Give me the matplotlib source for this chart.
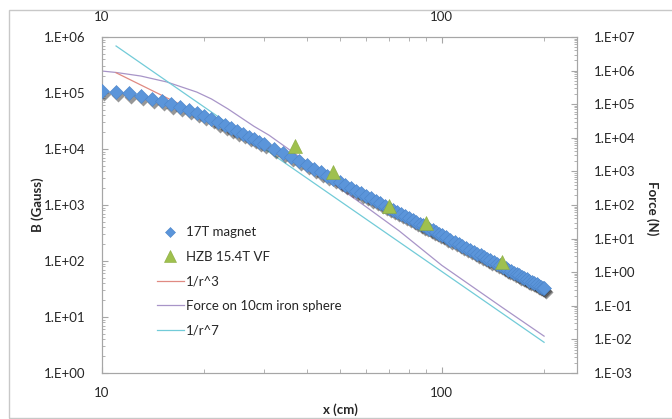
import numpy as np
import matplotlib
matplotlib.use("Agg")
import matplotlib.pyplot as plt
from matplotlib import ticker, transforms
from matplotlib.patches import Rectangle
from matplotlib.lines import Line2D

plt.rcParams['font.family'] = ['Lato', 'DejaVu Sans']

# 17T magnet field (Gauss)
x_mag = [10, 11, 12, 13, 14, 15, 16, 17, 18, 19, 20, 21, 22, 23, 24, 25, 26, 27, 28, 29, 30,
         32, 34, 36, 38, 40, 42, 44, 46, 48, 50, 52, 54, 56, 58, 60, 62, 64, 66, 68, 70,
         72, 74, 76, 78, 80, 82, 84, 86, 88, 90, 92, 94, 96, 98, 100,
         103, 106, 109, 112, 115, 118, 121, 124, 127, 130, 133, 136, 139, 142, 145, 148,
         151, 154, 157, 160, 163, 166, 169, 172, 175, 178, 181, 184, 187, 190, 193, 196, 199, 200]
b_mag = [1.10e5, 1.05e5, 9.8e4, 8.9e4, 7.9e4, 7.2e4, 6.3e4, 5.6e4, 5.0e4, 4.4e4, 3.9e4, 3.44e4,
         3.01e4, 2.64e4, 2.34e4, 2.08e4, 1.86e4, 1.66e4, 1.50e4, 1.355e4, 1.23e4,
         1.02e4, 8550, 7240, 6110, 5190, 4460, 3850, 3340, 2920, 2570, 2270, 2020, 1800, 1610,
         1450, 1310, 1180, 1070, 977, 891, 816, 748, 689, 634, 585, 542, 502, 466, 434, 404,
         377, 352, 330, 309, 290,
         264, 241, 221, 203, 187, 172, 159, 147, 136, 127, 118, 110, 103, 96, 90, 84.3,
         79.1, 74.4, 70.0, 65.9, 62.2, 58.7, 55.5, 52.5, 49.8, 47.1, 44.7, 42.5, 40.4, 38.4,
         36.5, 34.8, 33.2, 32.7]

# HZB 15.4T VF (Gauss)
x_hzb = [37, 48, 70, 90, 150]
b_hzb = [1.15e4, 3.9e3, 960, 480, 95]

# 1/r^3 reference (Gauss)
x_r3 = [11, 20, 50, 100, 200]
b_r3 = [2.3e5, 3.83e4, 2.45e3, 306, 38]

# force on 10cm iron sphere (N)
x_force = [10, 11, 13, 15.5, 19, 21, 23.5, 28, 31, 35, 42, 50, 60, 75, 100, 150, 200]
f_force = [9.7e5, 8.8e5, 6.9e5, 4.6e5, 2.3e5, 1.43e5, 7.2e4, 2.2e4, 1.2e4, 5.0e3, 1.35e3,
           320, 87, 16.8, 1.6, 0.092, 0.0125]

# 1/r^7 reference (N)
x_r7 = [11, 20, 50, 100, 200]
f_r7 = [5.4e6, 8.2e4, 134, 1.05, 0.0082]

fig = plt.figure(figsize=(6.72, 4.19), dpi=100)
fig.patches.append(Rectangle((9 / 672, 1 / 419), 2.0, 408 / 419, transform=fig.transFigure,
                             fill=False, edgecolor='#c8c8c8', lw=1.0))

ax = fig.add_axes([102 / 672, 46 / 419, 475 / 672, 336 / 419])
ax2 = ax.twinx()
ax.set_zorder(ax2.get_zorder() + 1)
ax.patch.set_visible(False)

for a in (ax, ax2):
    a.set_xscale('log')
    a.set_yscale('log')
    for s in a.spines.values():
        s.set_color('#a6a6a6')
        s.set_linewidth(0.8)

ax.set_xlim(10, 250)
ax.set_ylim(1, 1e6)
ax2.set_ylim(1e-3, 1e7)

# lines on the force axis (below the markers)
ax2.plot(x_force, f_force, color='#a895c8', lw=0.9)
ax2.plot(x_r7, f_r7, color='#72cbd8', lw=0.9)

# field axis
ax.plot(x_r3, b_r3, color='#e08a82', lw=0.9, zorder=1)
shadow = transforms.offset_copy(ax.transData, fig=fig, x=1.5, y=-2.4, units='points')
ax.plot(x_mag, b_mag, ls='none', marker='D', ms=7, color='#1a1a1a', alpha=0.45,
        mec='none', transform=shadow, zorder=2)
ax.plot(x_mag, b_mag, ls='none', marker='D', ms=7, color='#5b95da', mec='#4c84c8',
        mew=0.4, zorder=3)
ax.plot(x_hzb, b_hzb, ls='none', marker='^', ms=9.5, color='#9fc04e', mec='#8aab3e',
        mew=0.4, zorder=4)

def exp_fmt(v, p):
    return "1.E%+03d" % round(np.log10(v))

ax.yaxis.set_major_locator(ticker.LogLocator(base=10, numticks=20))
ax.yaxis.set_major_formatter(ticker.FuncFormatter(exp_fmt))
ax.yaxis.set_minor_locator(ticker.LogLocator(base=10, subs=np.arange(2, 10), numticks=20))
ax.yaxis.set_minor_formatter(ticker.NullFormatter())
ax2.yaxis.set_major_locator(ticker.LogLocator(base=10, numticks=20))
ax2.yaxis.set_major_formatter(ticker.FuncFormatter(exp_fmt))
ax2.yaxis.set_minor_locator(ticker.LogLocator(base=10, subs=np.arange(2, 10), numticks=20))
ax2.yaxis.set_minor_formatter(ticker.NullFormatter())

ax.xaxis.set_major_locator(ticker.FixedLocator([10, 100]))
ax.xaxis.set_major_formatter(ticker.FuncFormatter(lambda v, p: "%d" % v))
ax.xaxis.set_minor_locator(ticker.LogLocator(base=10, subs=np.arange(2, 10), numticks=20))
ax.xaxis.set_minor_formatter(ticker.NullFormatter())

ax.tick_params(axis='x', which='both', top=True, labeltop=True, direction='in',
               color='#a6a6a6', labelsize=9.5, labelcolor='#262626')
ax.tick_params(axis='x', which='major', length=4, pad=10)
ax.tick_params(axis='x', which='minor', length=3)
ax.tick_params(axis='y', which='both', direction='in', color='#a6a6a6',
               labelsize=9.5, labelcolor='#262626', pad=12)
ax.tick_params(axis='y', which='major', length=4)
ax.tick_params(axis='y', which='minor', length=2.5)
ax2.tick_params(axis='y', which='both', direction='in', color='#a6a6a6',
                labelsize=9.5, labelcolor='#262626', pad=12)
ax2.tick_params(axis='y', which='major', length=4)
ax2.tick_params(axis='y', which='minor', length=2.5)

fig.text(38 / 672, 1 - 205 / 419, 'B (Gauss)', rotation=90, ha='center', va='center',
         fontsize=9.5, fontweight='bold', color='#262626')
fig.text(652 / 672, 1 - 208 / 419, 'Force (N)', rotation=270, ha='center', va='center',
         fontsize=9.5, fontweight='bold', color='#262626')
fig.text(340 / 672, 1 - 410 / 419, 'x (cm)', ha='center', va='center',
         fontsize=9.5, fontweight='bold', color='#262626')

handles = [
    Line2D([], [], ls='none', marker='D', ms=5.5, color='#5b95da', mec='#4c84c8', mew=0.4),
    Line2D([], [], ls='none', marker='^', ms=8, color='#9fc04e', mec='#8aab3e', mew=0.4),
    Line2D([], [], color='#e08a82', lw=0.9),
    Line2D([], [], color='#a895c8', lw=0.9),
    Line2D([], [], color='#72cbd8', lw=0.9),
]
labels = ['17T magnet', 'HZB 15.4T VF', '1/r^3', 'Force on 10cm iron sphere', '1/r^7']
leg = ax.legend(handles, labels, loc='upper left', bbox_to_anchor=(152 / 672, 1 - 221 / 419),
                bbox_transform=fig.transFigure, frameon=False, fontsize=9.5,
                handlelength=2.0, handletextpad=0.2, labelspacing=0.95, borderaxespad=0)
for t in leg.get_texts():
    t.set_color('#262626')

fig.savefig('out.png', dpi=100)
